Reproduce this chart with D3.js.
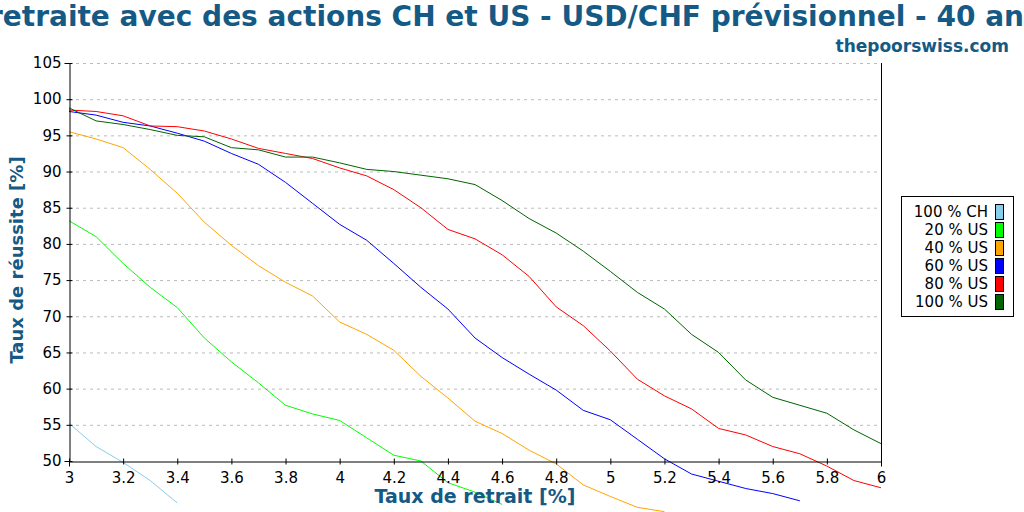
<!DOCTYPE html>
<html><head><meta charset="utf-8">
<script src="https://cdn.jsdelivr.net/npm/d3@7"></script>
<style>body{margin:0;background:#fff}svg{display:block;font-family:"DejaVu Sans",sans-serif}</style>
</head><body><svg id="chart" width="1024" height="512"></svg>
<script>
let rates = [3,3.1,3.2,3.3,3.4,3.5,3.6,3.7,3.8,3.9,4,4.1,4.2,4.3,4.4,4.5,4.6,4.7,4.8,4.9,5,5.1,5.2,5.3,5.4,5.5,5.6,5.7,5.8,5.9,6]
let seriesNames = ['100 % CH', '20 % US', '40 % US', '60 % US', '80 % US', '100 % US']
let seriesColors = ['#87ceeb', '#00ff00', '#ffa500', '#0000ff', '#ff0000', '#006400']
let ch100 = [55.2,52,49.8,47.3,44.2]
let us20 = [83.2,81,77.3,74,71.2,67,63.7,60.8,57.7,56.5,55.6,53.2,50.8,50,47,45.7,44]
let us40 = [95.5,94.5,93.3,90.3,87,83,79.8,77,74.7,72.8,69.2,67.5,65.3,61.7,58.7,55.5,53.8,51.5,49.6,46.7,45.1,43.6,43]
let us60 = [98.3,97.8,96.8,96.3,95.3,94.2,92.5,91,88.5,85.6,82.7,80.5,77.3,74,71,67,64.3,62,59.8,57,55.7,53,50.3,48.2,47.2,46.2,45.5,44.5]
let us80 = [98.5,98.3,97.7,96.3,96.2,95.6,94.5,93.2,92.5,91.8,90.5,89.4,87.5,85,82,80.7,78.5,75.5,71.3,68.7,65.2,61.3,59,57.2,54.5,53.6,52,51,49.3,47.3,46.3]
let us100 = [98.8,97,96.5,95.8,95,94.8,93.3,93,92,92,91.2,90.3,90,89.5,89,88.2,86,83.5,81.5,79,76.2,73.3,71,67.5,65,61.2,58.8,57.7,56.6,54.3,52.4]
let allSeries = [ch100, us20, us40, us60, us80, us100]
let xTicks = [3,3.2,3.4,3.6,3.8,4,4.2,4.4,4.6,4.8,5,5.2,5.4,5.6,5.8,6]
let yTicks = d3.range(50, 106, 5)

const svg = d3.select('#chart')
const titleColor = '#155a85'
const x = d3.scaleLinear().domain([3, 6]).range([69, 881])
const y = d3.scaleLinear().domain([50, 105]).range([461, 63])

// grid
svg.append('g').selectAll('line').data(yTicks.filter(v => v > 50)).join('line')
    .attr('x1', 69).attr('x2', 881).attr('y1', d => y(d) + .5).attr('y2', d => y(d) + .5)
    .attr('stroke', '#bbb').attr('stroke-dasharray', '3,4')

// lines (not clipped, as in the original)
const line = d3.line().x((d, i) => x(rates[i])).y(d => y(d))
svg.append('g').selectAll('path').data(allSeries).join('path')
    .attr('d', d => line(d)).attr('fill', 'none')
    .attr('stroke', (d, i) => seriesColors[i]).attr('stroke-width', 1)

// axes
const xAxis = svg.append('g').attr('transform', 'translate(0,461.5)')
    .call(d3.axisBottom(x).tickValues(xTicks).tickFormat(d3.format('')).tickSizeOuter(0).tickSize(5))
const yAxis = svg.append('g').attr('transform', 'translate(69.5,0)')
    .call(d3.axisLeft(y).tickValues(yTicks).tickSizeOuter(0).tickSize(5))
svg.append('line').attr('x1', 881.5).attr('x2', 881.5).attr('y1', 63).attr('y2', 461).attr('stroke', '#000')
svg.selectAll('.tick text').attr('font-size', 15).attr('font-family', 'DejaVu Sans').attr('fill', '#000')
svg.selectAll('.domain, .tick line').attr('stroke', '#000')
xAxis.selectAll('.tick line').attr('y1', -3).attr('y2', 3)
yAxis.selectAll('.tick line').attr('x1', -3).attr('x2', 3)
xAxis.selectAll('.tick text').attr('dy', '0.9em')

// titles
svg.append('text').attr('x', -11).attr('y', 26).text('retraite avec des actions CH et US - USD/CHF prévisionnel - 40 ans')
    .attr('font-size', 28).attr('font-weight', 'bold').attr('fill', titleColor)
svg.append('text').attr('x', 1009).attr('y', 52).attr('text-anchor', 'end').text('thepoorswiss.com')
    .attr('font-size', 17).attr('font-weight', 'bold').attr('fill', titleColor)
svg.append('text').attr('x', 475).attr('y', 503).attr('text-anchor', 'middle').text('Taux de retrait [%]')
    .attr('font-size', 19).attr('font-weight', 'bold').attr('fill', titleColor)
svg.append('text').attr('transform', 'translate(23,260) rotate(-90)').attr('text-anchor', 'middle').text('Taux de réussite [%]')
    .attr('font-size', 18).attr('font-weight', 'bold').attr('fill', titleColor)

// legend
const lg = svg.append('g')
lg.append('rect').attr('x', 901.5).attr('y', 196.5).attr('width', 112).attr('height', 120).attr('fill', '#fff').attr('stroke', '#000')
const rows = lg.selectAll('g').data(seriesNames).join('g').attr('transform', (d, i) => `translate(0,${204 + i * 18})`)
rows.append('rect').attr('x', 995.5).attr('y', 0.5).attr('width', 8).attr('height', 15)
    .attr('fill', (d, i) => seriesColors[i]).attr('stroke', '#000')
rows.append('text').attr('x', 988).attr('y', 13).attr('text-anchor', 'end').text(d => d).attr('font-size', 15)
</script></body></html>
